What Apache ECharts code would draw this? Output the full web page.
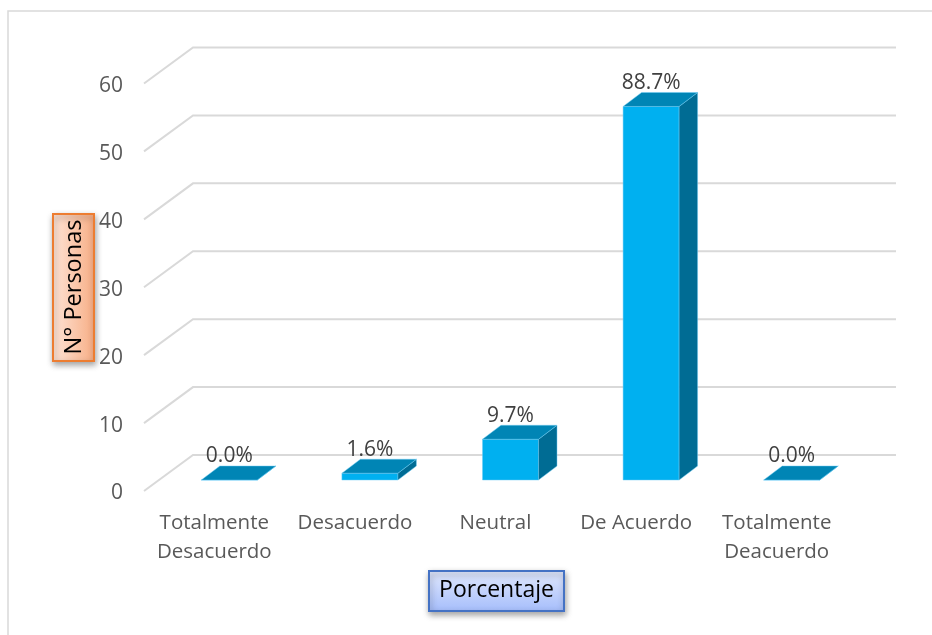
<!DOCTYPE html>
<html><head><meta charset="utf-8">
<style>html,body{margin:0;padding:0;background:#fff}#c{width:932px;height:635px}</style>
<script src="https://cdn.jsdelivr.net/npm/echarts@6/dist/echarts.min.js"></script>
</head><body><div id="c"></div>
<script>
var categories = ['Totalmente\nDesacuerdo','Desacuerdo','Neutral','De Acuerdo','Totalmente\nDeacuerdo'];
var personas = [0,1,6,55,0];
var porcentajes = ['0.0%','1.6%','9.7%','88.7%','0.0%'];
var yTicks = [0,10,20,30,40,50,60];
var FONT = '"Open Sans", sans-serif';
var chart = echarts.init(document.getElementById('c'), null, {renderer:'canvas'});
var G = echarts.graphic;
function box(x,y,w,h,c1,c2,stroke,horizontal){
  return {type:'rect',shape:{x:x,y:y,width:w,height:h},z:20,
    style:{fill:new G.LinearGradient(0,0,horizontal?1:0,horizontal?0:1,[{offset:0,color:c1},{offset:1,color:c2}]),
      stroke:stroke,lineWidth:2,shadowBlur:6,shadowOffsetX:1,shadowOffsetY:3,shadowColor:'rgba(0,0,0,0.35)'}};
}
chart.setOption({
  animation:false,
  backgroundColor:'#fff',
  grid:{left:144,top:83.5,width:703,height:407.5,containLabel:false},
  xAxis:{type:'category',data:categories,
    axisLine:{show:false},axisTick:{show:false},
    axisLabel:{interval:0,color:'#595959',fontFamily:FONT,fontSize:20.5,lineHeight:29,margin:18}},
  yAxis:{type:'value',min:0,max:60,interval:10,
    axisLine:{show:false},axisTick:{show:false},splitLine:{show:false},
    axisLabel:{color:'#595959',fontFamily:FONT,fontSize:21,margin:21,verticalAlign:'top',lineHeight:5}},
  series:[
    {type:'custom',z:1,silent:true,data:yTicks.map(function(t){return [0,t];}),
     renderItem:function(p,api){
       var c=api.coord([0,api.value(1)]),s=p.coordSys;
       return {type:'polyline',shape:{points:[[s.x,c[1]],[s.x+49,c[1]-36],[s.x+s.width+49,c[1]-36]]},
         style:{fill:null,stroke:'#d9d9d9',lineWidth:2}};
     }},
    {type:'custom',z:5,silent:true,data:personas.map(function(v,i){return [i,v];}),
     renderItem:function(p,api){
       var i=api.value(0),v=api.value(1);
       var top=api.coord([i,v]),base=api.coord([i,0]);
       var dy=-11,dx=15,w=56,ddx=18.5,ddy=-14;
       var x0=top[0]+dx-w/2,x1=x0+w,yt=top[1]+dy,yb=base[1]+dy;
       var edge={stroke:'rgba(110,205,245,0.8)',lineWidth:0.6};
       function poly(pts,fill){return {type:'polygon',shape:{points:pts},style:{fill:fill,stroke:edge.stroke,lineWidth:edge.lineWidth}};}
       return {type:'group',children:[
         poly([[x0,yb],[x1,yb],[x1,yt],[x0,yt]],'#00b0f0'),
         poly([[x1,yb],[x1+ddx,yb+ddy],[x1+ddx,yt+ddy],[x1,yt]],'#006c94'),
         poly([[x0,yt],[x0+ddx,yt+ddy],[x1+ddx,yt+ddy],[x1,yt]],'#0085b5'),
         {type:'text',style:{text:porcentajes[i],x:x0+w/2,y:yt+ddy+1,align:'center',verticalAlign:'bottom',
           fill:'#404040',font:'21px '+FONT}}
       ]};
     }}
  ],
  graphic:[
    {type:'polyline',shape:{points:[[8,635],[8,11],[932,11]]},z:0,style:{fill:null,stroke:'#d9d9d9',lineWidth:1.5}},
    box(53,214,41,147,'#fee5d8','#f7ad84','#ed7d31',true),
    {type:'text',x:74,y:287,rotation:Math.PI/2,z:21,style:{text:'N° Personas',align:'center',verticalAlign:'middle',fill:'#000',font:'23.5px '+FONT}},
    box(429,571,135,40,'#e2e9fd','#a5bdfb','#4472c4',false),
    {type:'text',x:496.5,y:590,z:21,style:{text:'Porcentaje',align:'center',verticalAlign:'middle',fill:'#000',font:'23px '+FONT}}
  ]
});
</script></body></html>
